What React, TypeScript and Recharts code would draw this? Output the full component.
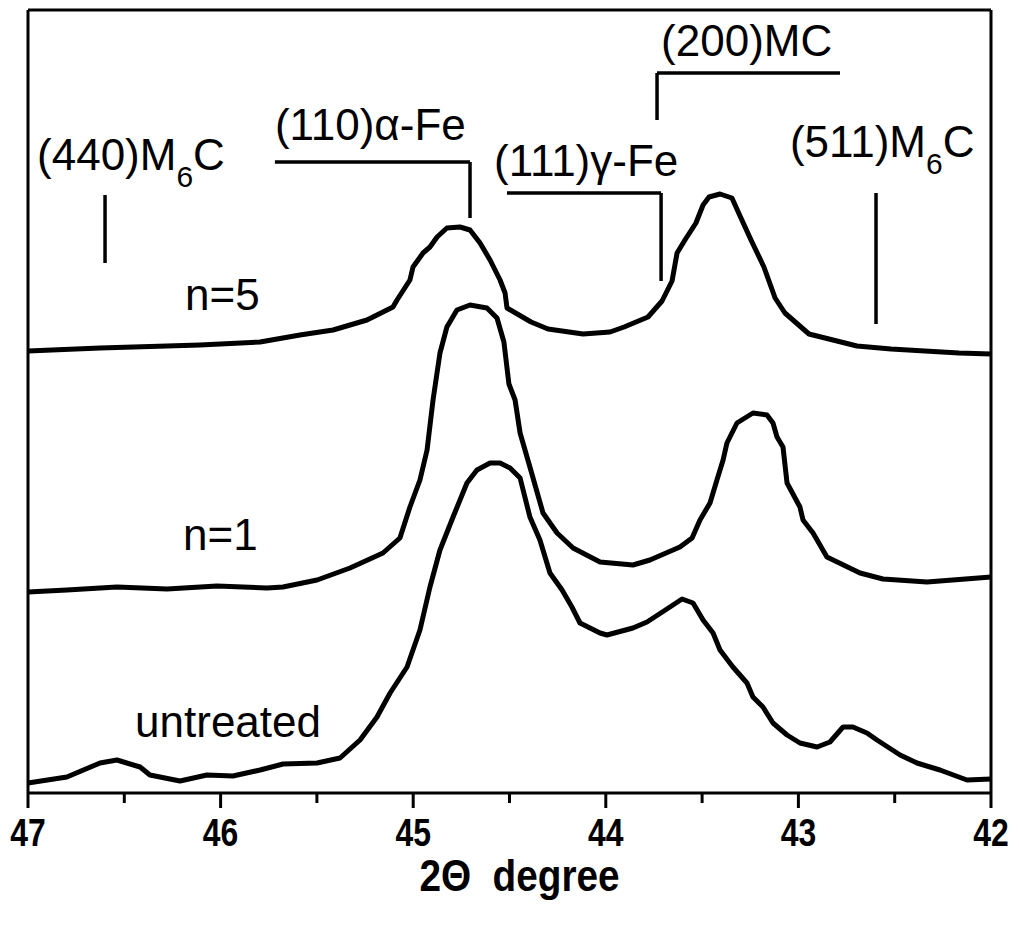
import { LineChart, Line, XAxis, YAxis, ReferenceLine, ReferenceDot, Label } from 'recharts';

// [2θ (deg), intensity (arb. units)]
const untreated: number[][] = [
  [47.0, 10], [46.798, 16], [46.626, 30], [46.538, 33], [46.418, 26], [46.367, 18], [46.211, 12],
  [46.071, 18], [45.936, 17], [45.795, 23], [45.676, 29], [45.499, 30], [45.38, 35], [45.276, 53],
  [45.188, 76], [45.12, 100], [45.032, 126], [44.965, 163], [44.913, 206], [44.861, 243], [44.793, 276],
  [44.721, 310], [44.669, 323], [44.601, 330], [44.549, 330], [44.497, 325], [44.445, 315], [44.394, 276],
  [44.342, 253], [44.29, 220], [44.227, 203], [44.176, 186], [44.134, 170], [44.03, 160], [43.994, 158],
  [43.859, 165], [43.786, 171], [43.651, 188], [43.604, 194], [43.547, 190], [43.495, 173], [43.443, 160],
  [43.407, 143], [43.34, 126], [43.267, 110], [43.236, 96], [43.184, 86], [43.132, 70], [43.059, 58],
  [42.992, 50], [42.903, 46], [42.836, 51], [42.768, 66], [42.717, 66], [42.644, 60], [42.592, 53],
  [42.472, 38], [42.384, 30], [42.265, 23], [42.125, 13], [42.0, 14],
];

const cycle1: number[][] = [
  [47.0, 201], [46.798, 203], [46.538, 206], [46.278, 204], [46.019, 207], [45.759, 205], [45.676, 206],
  [45.499, 213], [45.328, 225], [45.157, 240], [45.069, 255], [45.017, 286], [44.965, 313], [44.928, 343],
  [44.897, 393], [44.861, 440], [44.825, 466], [44.773, 483], [44.705, 488], [44.617, 485], [44.565, 475],
  [44.529, 451], [44.503, 409], [44.471, 393], [44.445, 360], [44.394, 326], [44.326, 280], [44.253, 260],
  [44.17, 245], [44.03, 231], [43.859, 228], [43.771, 233], [43.615, 246], [43.552, 255], [43.511, 273],
  [43.459, 290], [43.423, 313], [43.391, 333], [43.371, 350], [43.319, 370], [43.236, 380], [43.163, 378],
  [43.132, 370], [43.111, 356], [43.08, 346], [43.059, 310], [42.992, 286], [42.976, 273], [42.924, 260],
  [42.852, 236], [42.68, 220], [42.561, 214], [42.332, 211], [42.0, 216],
];

const cycle5: number[][] = [
  [47.0, 442], [46.626, 445], [46.107, 448], [45.795, 451], [45.588, 458], [45.416, 463], [45.24, 473],
  [45.105, 486], [45.084, 493], [45.017, 513], [45.001, 526], [44.949, 540], [44.913, 546], [44.876, 556],
  [44.825, 565], [44.757, 566], [44.705, 563], [44.653, 550], [44.601, 533], [44.549, 513], [44.523, 500],
  [44.513, 485], [44.388, 471], [44.3, 464], [44.118, 459], [43.978, 461], [43.905, 466], [43.781, 476],
  [43.708, 492], [43.656, 512], [43.63, 540], [43.589, 553], [43.532, 570], [43.495, 588], [43.464, 596],
  [43.407, 599], [43.345, 595], [43.303, 577], [43.246, 553], [43.179, 526], [43.121, 495], [43.07, 480],
  [42.945, 459], [42.696, 447], [42.519, 444], [42.343, 442], [42.166, 440], [42.0, 439],
];

const xTicks = [47, 46.5, 46, 45.5, 45, 44.5, 44, 43.5, 43, 42.5, 42];
const yMax = 783;
const yTicks = Array.from({ length: 19 }, (_, i) => yMax - 40 * (i + 1));

// peak marker strokes, in data units
const markerSegments = [
  [[46.6, 598], [46.6, 530]],
  [[45.718, 631], [44.705, 631]],
  [[44.705, 631], [44.705, 575]],
  [[44.513, 600], [43.713, 600]],
  [[43.713, 600], [43.713, 512]],
  [[43.734, 720], [42.784, 720]],
  [[43.734, 720], [43.734, 673]],
  [[42.597, 600], [42.597, 469]],
];

const peakLabels = [
  { x: 46.953, y: 623, text: '(440)M', sub: '6', tail: 'C' },
  { x: 45.718, y: 653, text: '(110)α-Fe' },
  { x: 44.58, y: 617, text: '(111)γ-Fe' },
  { x: 43.713, y: 737, text: '(200)MC' },
  { x: 43.044, y: 636, text: '(511)M', sub: '6', tail: 'C' },
  { x: 46.185, y: 483, text: 'n=5' },
  { x: 46.195, y: 243, text: 'n=1' },
  { x: 46.444, y: 56, text: 'untreated' },
];

const toRows = (pts: number[][]) => pts.map(([t, v]) => ({ t, v }));

const sans = "'Liberation Sans', Arial, sans-serif";

const BottomTick = (props: any) => {
  const { x, y, payload } = props;
  const major = Number.isInteger(payload.value);
  return (
    <g>
      <line x1={x} x2={x} y1={y} y2={y + (major ? 15 : 10)} stroke="#000" strokeWidth={3} />
      {major && (
        <text
          transform={`translate(${x},${y + 53}) scale(0.84,1)`}
          textAnchor="middle"
          fontFamily={sans}
          fontWeight="bold"
          fontSize={38}
          fill="#000"
        >
          {payload.value}
        </text>
      )}
    </g>
  );
};

const AxisTitle = (props: any) => {
  const { viewBox } = props;
  const cx = viewBox.x + viewBox.width / 2 + 10;
  return (
    <text
      transform={`translate(${cx},${viewBox.y + 98}) scale(0.88,1)`}
      textAnchor="middle"
      fontFamily={sans}
      fontWeight="bold"
      fontSize={44}
      fill="#000"
    >
      2Θ&#160;&#160;degree
    </text>
  );
};

export default function App() {
  return (
    <div style={{ position: 'absolute', left: 0, top: 0, background: '#fff' }}>
      <LineChart width={1019} height={936} margin={{ top: 9, right: 27, bottom: 0, left: 27 }}>
        <XAxis
          dataKey="t"
          type="number"
          domain={[42, 47]}
          reversed
          ticks={xTicks}
          interval={0}
          height={143}
          tickSize={0}
          tickMargin={0}
          tickLine={false}
          tick={<BottomTick />}
          axisLine={{ stroke: '#000', strokeWidth: 3 }}
        >
          <Label content={<AxisTitle />} />
        </XAxis>
        <XAxis
          xAxisId="top"
          orientation="top"
          type="number"
          domain={[42, 47]}
          reversed
          ticks={xTicks}
          interval={0}
          height={1}
          tick={false}
          tickSize={-8}
          tickLine={{ stroke: '#000', strokeWidth: 2 }}
          axisLine={{ stroke: '#000', strokeWidth: 3 }}
        />
        <YAxis
          type="number"
          domain={[0, yMax]}
          ticks={yTicks}
          interval={0}
          width={1}
          tick={false}
          tickSize={-7}
          tickLine={{ stroke: '#000', strokeWidth: 2 }}
          axisLine={{ stroke: '#000', strokeWidth: 3 }}
        />
        <YAxis
          yAxisId="right"
          orientation="right"
          type="number"
          domain={[0, yMax]}
          ticks={yTicks}
          interval={0}
          width={1}
          tick={false}
          tickSize={-7}
          tickLine={{ stroke: '#000', strokeWidth: 2 }}
          axisLine={{ stroke: '#000', strokeWidth: 3 }}
        />

        <Line data={toRows(untreated)} dataKey="v" stroke="#000" strokeWidth={5} strokeLinejoin="round" dot={false} isAnimationActive={false} />
        <Line data={toRows(cycle1)} dataKey="v" stroke="#000" strokeWidth={5} strokeLinejoin="round" dot={false} isAnimationActive={false} />
        <Line data={toRows(cycle5)} dataKey="v" stroke="#000" strokeWidth={5} strokeLinejoin="round" dot={false} isAnimationActive={false} />

        {markerSegments.map((s, i) => (
          <ReferenceLine
            key={`m${i}`}
            segment={[{ x: s[0][0], y: s[0][1] }, { x: s[1][0], y: s[1][1] }]}
            stroke="#000"
            strokeWidth={3.5}
          />
        ))}

        {peakLabels.map((p, i) => (
          <ReferenceDot
            key={`l${i}`}
            x={p.x}
            y={p.y}
            r={0}
            ifOverflow="visible"
            shape={(d: any) => (
              <text x={d.cx} y={d.cy} fontFamily={sans} fontSize={44} fill="#000">
                {p.text}
                {p.sub && <tspan dy={17} fontSize={30}>{p.sub}</tspan>}
                {p.tail && <tspan dy={-17}>{p.tail}</tspan>}
              </text>
            )}
          />
        ))}
      </LineChart>
    </div>
  );
}
